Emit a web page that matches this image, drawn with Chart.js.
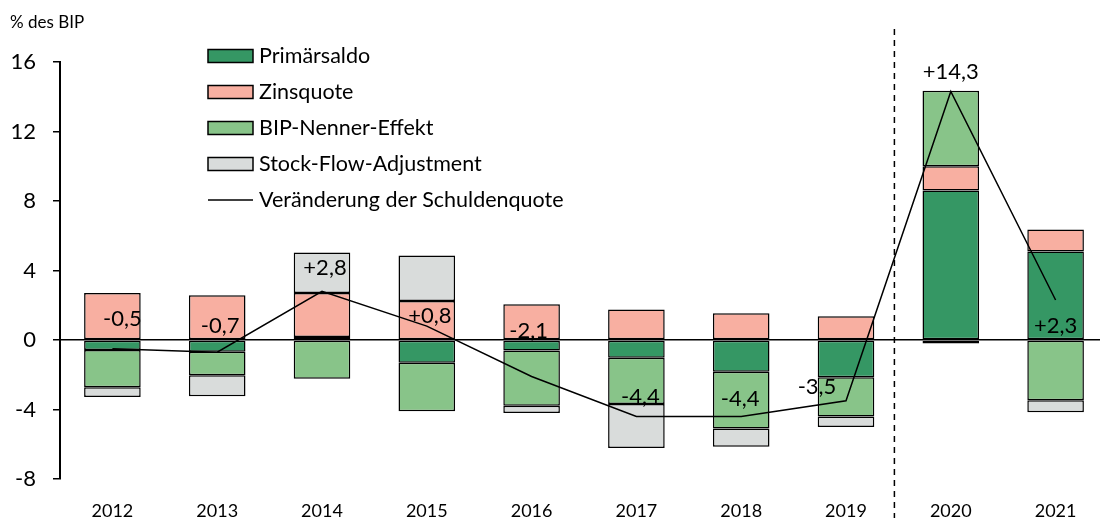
<!DOCTYPE html>
<html>
<head>
<meta charset="utf-8">
<script src="https://cdn.jsdelivr.net/npm/chart.js@4.4.0/dist/chart.umd.min.js"></script>
<style>
  html, body { margin: 0; padding: 0; overflow: hidden; background: #fff; }
  #wrap { position: relative; width: 1110px; height: 518px; }
  #unit { position: absolute; left: 10px; top: 11px; font: 17px Lato, sans-serif; color: #000; }
</style>
</head>
<body>
<div id="wrap">
  <canvas id="myChart" width="1110" height="518"></canvas>
  <div id="unit">% des BIP</div>
</div>
<script>
let years = ["2012", "2013", "2014", "2015", "2016", "2017", "2018", "2019", "2020", "2021"];
let primaersaldo = [-0.58, -0.67, 0.17, -1.31, -0.6, -1.02, -1.83, -2.14, 8.6, 5.1];
let zinsquote = [2.7, 2.58, 2.53, 2.25, 2.06, 1.75, 1.54, 1.37, 1.4, 1.26];
let bipNenner = [-2.14, -1.36, -2.23, -2.79, -3.18, -2.66, -3.27, -2.27, 4.35, -3.47];
let stockFlow = [-0.56, -1.21, 2.33, 2.61, -0.42, -2.54, -1.04, -0.6, -0.2, -0.69];
let schuldenquote = [-0.5, -0.7, 2.8, 0.8, -2.1, -4.4, -4.4, -3.5, 14.3, 2.3];
let yTicks = [-8, -4, 0, 4, 8, 12, 16];

// where each value label sits relative to its line point
let labelOffsets = [[10, -30], [3, -26], [3, -23], [3, -10], [-3, -46], [4, -20], [-1, -18], [-29, -14], [0, -20], [0, 26]];

const FONT = "Lato, sans-serif";

function fmt(v) {
    let s = Math.abs(v).toFixed(1).replace(".", ",");
    return (v >= 0 ? "+" : "-") + s;
}

function barSet(label, data, color) {
    return {
        type: "bar",
        label: label,
        data: data,
        backgroundColor: color,
        borderColor: "#000",
        borderWidth: 1.5,
        borderSkipped: false,
        stack: "bars",
        order: 1,
        barPercentage: 0.54,
        categoryPercentage: 1
    };
}

const extras = {
    id: "extras",
    afterDatasetsDraw(chart) {
        let ctx = chart.ctx;
        let x = chart.scales.x;
        let y = chart.scales.y;

        // value labels of the line
        ctx.save();
        ctx.font = "22px " + FONT;
        ctx.fillStyle = "#000";
        ctx.textAlign = "center";
        ctx.textBaseline = "middle";
        schuldenquote.forEach((v, i) => {
            let px = x.getPixelForValue(i) + labelOffsets[i][0];
            let py = y.getPixelForValue(v) + labelOffsets[i][1];
            ctx.fillText(fmt(v), px, py);
        });

        // dashed separator before 2020
        let sx = (x.getPixelForValue(7) + x.getPixelForValue(8)) / 2 - 4;
        ctx.strokeStyle = "#000";
        ctx.lineWidth = 1.5;
        ctx.setLineDash([6, 5]);
        ctx.beginPath();
        ctx.moveTo(sx, 29);
        ctx.lineTo(sx, 518);
        ctx.stroke();
        ctx.setLineDash([]);

        // legend
        ctx.font = "21.5px " + FONT;
        ctx.textAlign = "left";
        let order = [1, 2, 3, 4, 0];
        order.forEach((d, k) => {
            let ds = chart.data.datasets[d];
            let ly = 56 + k * 36;
            if (ds.type === "line") {
                ctx.beginPath();
                ctx.moveTo(208, ly);
                ctx.lineTo(253, ly);
                ctx.lineWidth = 1.5;
                ctx.stroke();
            } else {
                ctx.fillStyle = ds.backgroundColor;
                ctx.fillRect(208, ly - 6.5, 45, 13);
                ctx.lineWidth = 1.5;
                ctx.strokeRect(208, ly - 6.5, 45, 13);
            }
            ctx.fillStyle = "#000";
            ctx.fillText(ds.label, 259, ly);
        });
        ctx.restore();
    }
};

new Chart(document.getElementById("myChart"), {
    data: {
        labels: years,
        datasets: [
            {
                type: "line",
                label: "Veränderung der Schuldenquote",
                data: schuldenquote,
                borderColor: "#000",
                borderWidth: 1.5,
                pointRadius: 0,
                tension: 0,
                stack: "line",
                order: 0
            },
            barSet("Primärsaldo", primaersaldo, "#359764"),
            barSet("Zinsquote", zinsquote, "#f8afa1"),
            barSet("BIP-Nenner-Effekt", bipNenner, "#88c489"),
            barSet("Stock-Flow-Adjustment", stockFlow, "#d9dcdb")
        ]
    },
    options: {
        responsive: false,
        animation: false,
        layout: { padding: { top: 62, right: 2, bottom: 0, left: 0 } },
        plugins: {
            legend: { display: false },
            tooltip: { enabled: false }
        },
        scales: {
            x: {
                stacked: true,
                grid: { display: false, drawTicks: false },
                border: { display: false },
                ticks: { color: "#000", font: { family: FONT, size: 18 }, padding: 21 },
                afterFit(scale) { scale.height = 39; }
            },
            y: {
                stacked: true,
                min: -8,
                max: 16,
                afterBuildTicks(scale) { scale.ticks = yTicks.map(v => ({ value: v })); },
                afterFit(scale) { scale.width = 60; },
                grid: {
                    color: c => (c.tick && c.tick.value === 0 ? "#000" : "rgba(0,0,0,0)"),
                    lineWidth: 1.5,
                    tickColor: "#000",
                    tickLength: 7
                },
                border: { display: true, color: "#000", width: 2 },
                ticks: { color: "#000", font: { family: FONT, size: 22 }, padding: 17 }
            }
        }
    },
    plugins: [extras]
});
</script>
</body>
</html>
